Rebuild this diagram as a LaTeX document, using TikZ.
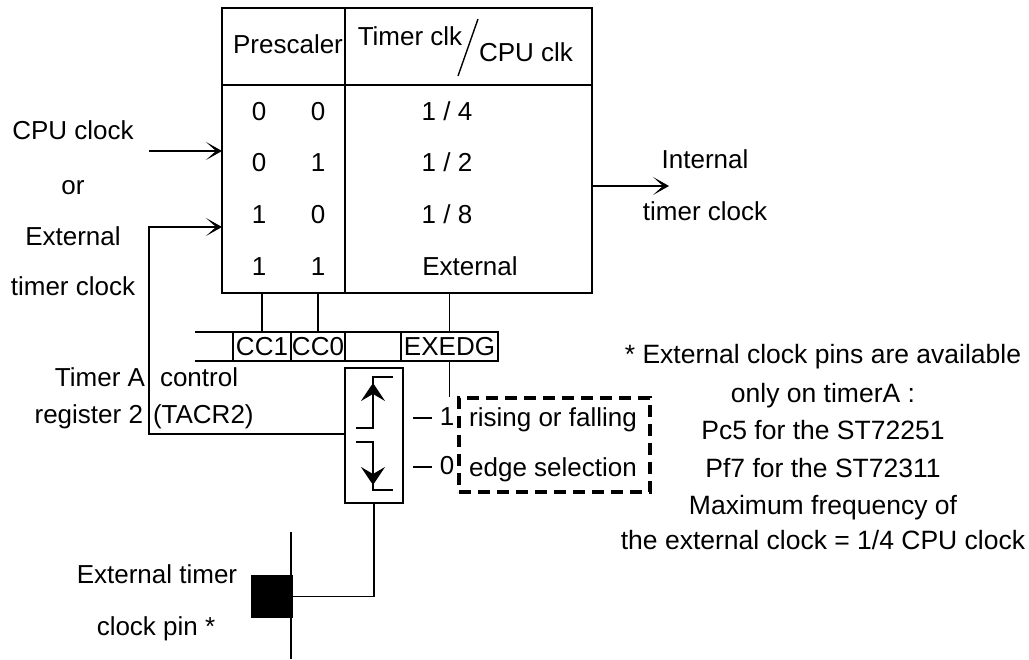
\documentclass[tikz,border=0pt]{standalone}
\usepackage{fontspec}
\setmainfont{Liberation Sans}
\usetikzlibrary{arrows.meta}
\begin{document}
\begin{tikzpicture}[x=1pt,y=-1pt,
  every node/.style={inner sep=0pt, outer sep=0pt},
  ln/.style={line width=1.4pt, black},
  txt/.style={font=\fontsize{26}{30}\selectfont, anchor=base, yshift=-9pt},
  notetxt/.style={font=\fontsize{26.5}{30}\selectfont, anchor=base, yshift=-9pt},
  inarrow/.style={ln, -{Stealth[length=16pt,width=18pt,inset=10pt]}},
  edgearrow/.style={ln, -{Stealth[length=18pt,width=24pt,inset=7pt]}},
  box/.style={draw, ln, rectangle, anchor=north west},
  selbox/.style={draw, line width=3.5pt, dash pattern=on 12pt off 7pt, rectangle, anchor=north west},
]
\useasboundingbox (0,0) rectangle (1029,660);

% ---- prescaler table ----
\node[box, minimum width=370pt, minimum height=285pt] (pre) at (222,8) {};
\draw[ln] (222,85) -- (592,85);
\draw[ln] (345,8) -- (345,293);
\draw[ln] (478,19) -- (458,76);
\node[txt] (hpre) at (288,45) {Prescaler};
\node[txt] (htim) at (410,37) {Timer clk};
\node[txt] (hcpu) at (526,53) {CPU clk};

\node[txt] at (259,112) {0}; \node[txt] at (318,112) {0}; \node[txt] at (447,112) {1 / 4};
\node[txt] at (259,163) {0}; \node[txt] at (318,163) {1}; \node[txt] at (447,163) {1 / 2};
\node[txt] at (259,215) {1}; \node[txt] at (318,215) {0}; \node[txt] at (447,215) {1 / 8};
\node[txt] at (259,267) {1}; \node[txt] at (318,267) {1}; \node[txt] at (470,267) {External};

% ---- input / output labels ----
\node[txt] (l1) at (73,131) {CPU clock};
\node[txt] (l2) at (73,186) {or};
\node[txt] (l3) at (73,237) {External};
\node[txt] (l4) at (73,287) {timer clock};
\node[txt] (o1) at (705,160) {Internal};
\node[txt] (o2) at (705,212) {timer clock};

% ---- register ----
\node[box, minimum width=265pt, minimum height=29pt] (reg) at (233,332) {};
\draw[ln] (195,332) -- (reg.north west);
\draw[ln] (195,361) -- (reg.south west);
\draw[ln] (291,332) -- (291,361);
\draw[ln] (345,332) -- (345,361);
\draw[ln] (401,332) -- (401,361);
\node[txt] (cc1) at (262,346.5) {CC1};
\node[txt] (cc0) at (318,346.5) {CC0};
\node[txt] (exedg) at (449.5,346.5) {EXEDG};

\node[txt, anchor=base east] (ta) at (145,378) {Timer A};
\node[txt, anchor=base west] (tb) at (160,378) {control};
\node[txt, anchor=base east] (tc) at (143,415) {register 2};
\node[txt, anchor=base west] (td) at (153,415) {(TACR2)};

% ---- edge selection ----
\node[box, minimum width=58pt, minimum height=135pt] (edge) at (345,368) {};
\draw[ln] (356,428) -- (373,428) -- (373,377) -- (393,377);
\draw[edgearrow] (373,412) -- (373,383);
\draw[ln] (356,442) -- (373,442) -- (373,490) -- (393,490);
\draw[edgearrow] (373,458) -- (373,485);

\draw[ln] (413,418) -- (432,418);
\draw[ln] (413,467) -- (432,467);
\node[txt] (one) at (447,417) {1};
\node[txt] (zero) at (447,466) {0};

\node[selbox, minimum width=191pt, minimum height=94pt] (sel) at (459,398) {};
\node[txt] (s1) at (553,418) {rising or falling};
\node[txt] (s2) at (553,467) {edge selection};

% ---- pin ----
\node[box, fill=black, minimum width=40pt, minimum height=41pt] (pin) at (252,576) {};
\coordinate (pintop) at (291,532);
\coordinate (pinbot) at (291,659);
\draw[ln] (pintop) -- (pinbot);
\node[txt] (p1) at (157,574) {External timer};
\node[txt] (p2) at (156,626) {clock pin *};

% ---- note ----
\node[notetxt] (n1) at (823,355) {* External clock pins are available};
\node[notetxt] (n2) at (823,394) {only on timerA :};
\node[notetxt] (n3) at (823,431) {Pc5 for the ST72251};
\node[notetxt] (n4) at (823,468) {Pf7 for the ST72311};
\node[notetxt] (n5) at (823,505) {Maximum frequency of};
\node[notetxt] (n6) at (823,540) {the external clock = 1/4 CPU clock};

% ---- connectors ----
\coordinate (cpu) at (149,151);
\draw[inarrow] (cpu) -- (cpu -| pre.west);
\coordinate (ext) at (149,434);
\coordinate (in2) at (222,227);
\draw[inarrow] (edge.west |- ext) -- (ext) |- (in2 -| pre.west);
\coordinate (out) at (669,186);
\draw[inarrow] (out -| pre.east) -- (out);

\draw[ln] (cc1 |- pre.south) -- (cc1 |- reg.north);
\draw[ln] (cc0 |- pre.south) -- (cc0 |- reg.north);
\draw[ln] (exedg |- pre.south) -- (exedg |- reg.north);
\coordinate (exend) at (449.5,397);
\draw[ln] (exedg |- reg.south) -- (exend);

\draw[ln] (edge.south) |- (pin.east);
\end{tikzpicture}
\end{document}
